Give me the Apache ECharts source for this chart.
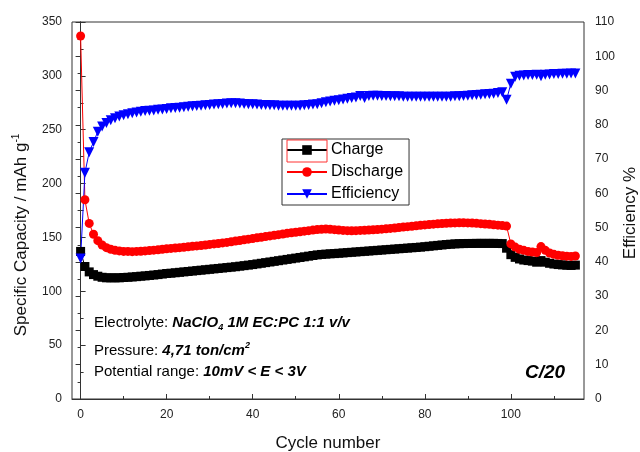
<!DOCTYPE html>
<html>
<head>
<meta charset="utf-8">
<script src="https://cdn.jsdelivr.net/npm/echarts@6/dist/echarts.min.js"></script>
<style>
  html, body { margin: 0; padding: 0; background: #fff; }
  #chart { width: 640px; height: 452px; }
</style>
</head>
<body>
<div id="chart"></div>
<script>
// specific capacity (mAh/g) per cycle, cycles 0..115
const charge = [
  137, 123, 118, 115.5, 114, 113, 112.5, 112.5, 112.5, 112.5,
  112.8, 113, 113.3, 113.6, 114, 114.3, 114.7, 115.1, 115.5, 116,
  116.5, 116.8, 117.2, 117.6, 118, 118.4, 118.8, 119.2, 119.6, 120,
  120.4, 120.8, 121.2, 121.6, 122, 122.4, 122.8, 123.3, 123.8, 124.3,
  124.8, 125.4, 126, 126.6, 127.2, 127.8, 128.4, 129, 129.6, 130.2,
  130.8, 131.4, 132, 132.6, 133.2, 133.8, 134.2, 134.5, 134.8, 135,
  135.3, 135.6, 135.9, 136.2, 136.5, 136.8, 137.1, 137.4, 137.7, 138,
  138.3, 138.6, 138.9, 139.2, 139.5, 139.8, 140.1, 140.4, 140.7, 141,
  141.4, 141.8, 142.2, 142.6, 143, 143.4, 143.7, 144, 144.2, 144.3,
  144.4, 144.4, 144.5, 144.5, 144.5, 144.5, 144.5, 144.4, 144.3, 140,
  134, 131.5, 130, 129, 128.5, 128, 127, 128.5, 127, 126,
  125.3, 124.8, 124.5, 124.2, 124, 124.3
];
const discharge = [
  337, 185, 163, 153, 147, 143, 140.5, 139, 138, 137.5,
  137, 137, 136.8, 137, 137.2, 137.5, 137.8, 138.2, 138.6, 139,
  139.5, 139.8, 140.2, 140.5, 140.9, 141.3, 141.7, 142.1, 142.5, 143,
  143.5, 144, 144.4, 144.9, 145.4, 146, 146.6, 147.2, 147.8, 148.4,
  149, 149.6, 150.2, 150.8, 151.4, 152, 152.6, 153.2, 153.8, 154.3,
  154.8, 155.3, 155.8, 156.3, 156.8, 157.3, 157.6, 157.8, 157.6, 157.2,
  156.8, 156.5, 156.3, 156.2, 156.3, 156.5, 156.7, 156.9, 157.1, 157.4,
  157.7, 158, 158.4, 158.8, 159.2, 159.6, 160, 160.4, 160.8, 161.2,
  161.6, 162, 162.3, 162.6, 162.9, 163.2, 163.4, 163.5, 163.6, 163.6,
  163.5, 163.3, 163.1, 162.8, 162.5, 162.2, 161.8, 161.4, 161, 160.5,
  144, 141, 139, 138, 137, 136.5, 136, 141.5, 138, 135.5,
  134.3, 133.5, 133, 132.6, 132.4, 132.8
];
// coulombic efficiency (%)
const efficiency = [
  41, 66, 72, 75, 78, 79.5, 80.5, 81.3, 81.9, 82.4,
  82.8, 83.1, 83.4, 83.6, 83.8, 84, 84.1, 84.2, 84.4, 84.5,
  84.6, 84.8, 84.9, 85, 85.1, 85.3, 85.4, 85.5, 85.6, 85.7,
  85.8, 85.9, 86, 86.1, 86.2, 86.3, 86.3, 86.2, 86.1, 86,
  86, 85.9, 85.8, 85.8, 85.7, 85.7, 85.6, 85.6, 85.6, 85.6,
  85.6, 85.6, 85.7, 85.8, 85.9, 86, 86.3, 86.6, 86.8, 87,
  87.2, 87.4, 87.6, 87.8, 88, 88.4, 87.8, 88.4, 88.5, 88.5,
  88.4, 88.4, 88.3, 88.3, 88.3, 88.2, 88.2, 88.2, 88.2, 88.2,
  88.2, 88.2, 88.2, 88.2, 88.2, 88.2, 88.2, 88.3, 88.3, 88.4,
  88.5, 88.6, 88.7, 88.8, 88.9, 89, 89.1, 89.3, 89.5, 87.3,
  92, 94, 94.3, 94.4, 94.5, 94.5, 94.6, 94.2, 94.6, 94.7,
  94.8, 94.8, 94.9, 94.9, 95, 95
];
const xMajorTicks = [0, 20, 40, 60, 80, 100];
const xMinorTicks = [10, 30, 50, 70, 90, 110];

const cycles = charge.map((v, i) => i);
const pairs = (arr) => arr.map((v, i) => [cycles[i], v]);

const FONT = "Liberation Sans, Arial, sans-serif";
const axisColor = "#333";
const labelColor = "#222";

const chart = echarts.init(document.getElementById("chart"));
chart.setOption({
  animation: false,
  backgroundColor: "#fff",
  grid: {
    left: 72, right: 56, top: 22, bottom: 53,
    show: true, borderColor: axisColor, borderWidth: 1,
    outerBoundsMode: "none"
  },
  xAxis: [
    {
      type: "value", min: -2, max: 117,
      axisLine: { onZero: false, lineStyle: { color: axisColor, width: 1 } },
      axisTick: { inside: true, length: 5, customValues: xMajorTicks, lineStyle: { color: axisColor } },
      axisLabel: { customValues: xMajorTicks, margin: 10, color: labelColor, fontSize: 12, fontFamily: FONT },
      splitLine: { show: false }
    },
    {
      // minor ticks only
      type: "value", min: -2, max: 117, position: "bottom",
      axisLine: { show: false, onZero: false },
      axisTick: { inside: true, length: 3, customValues: xMinorTicks, lineStyle: { color: axisColor } },
      axisLabel: { show: false },
      splitLine: { show: false }
    }
  ],
  yAxis: [
    {
      type: "value", min: 0, max: 350, interval: 50, position: "left",
      axisLine: { show: true, lineStyle: { color: axisColor, width: 1 } },
      axisTick: { show: true, inside: true, length: 5, lineStyle: { color: axisColor } },
      minorTick: { show: true, splitNumber: 2, length: 3, lineStyle: { color: axisColor } },
      axisLabel: { margin: 10, color: labelColor, fontSize: 12, fontFamily: FONT },
      splitLine: { show: false }
    },
    {
      type: "value", min: 0, max: 110, interval: 10, position: "right",
      axisLine: { show: true, lineStyle: { color: axisColor, width: 1 } },
      axisTick: { show: true, inside: true, length: 5, lineStyle: { color: axisColor } },
      minorTick: { show: true, splitNumber: 2, length: 3, lineStyle: { color: axisColor } },
      axisLabel: { margin: 11, color: labelColor, fontSize: 12, fontFamily: FONT },
      splitLine: { show: false }
    }
  ],
  legend: {
    left: 282, top: 139, orient: "vertical",
    data: ["Charge", "Discharge", "Efficiency"],
    backgroundColor: "#fff", borderColor: "#333", borderWidth: 1,
    padding: [2, 6, 2, 4], itemGap: 4, itemWidth: 40, itemHeight: 12,
    textStyle: { fontSize: 16, lineHeight: 18, color: "#000", fontFamily: FONT, padding: [0, 0, 0, -1] }
  },
  series: [
    {
      name: "Charge", type: "line", data: pairs(charge),
      symbol: "rect", symbolSize: 9, showAllSymbol: true,
      itemStyle: { color: "#000" }, lineStyle: { color: "#000", width: 1 }
    },
    {
      name: "Discharge", type: "line", data: pairs(discharge),
      symbol: "circle", symbolSize: 9, showAllSymbol: true,
      itemStyle: { color: "#ff0000" }, lineStyle: { color: "#ff0000", width: 1 }
    },
    {
      name: "Efficiency", type: "line", yAxisIndex: 1, data: pairs(efficiency),
      symbol: "triangle", symbolRotate: 180, symbolSize: 10, showAllSymbol: true,
      itemStyle: { color: "#0000ff" }, lineStyle: { color: "#0000ff", width: 1 }
    }
  ],
  graphic: [
    // red selection box around the Charge legend symbol
    {
      type: "rect", z: 100,
      shape: { x: 287, y: 140, width: 40, height: 22 },
      style: { fill: "none", stroke: "#ff3333", lineWidth: 1 }
    },
    {
      type: "text", left: 94, top: 315,
      style: {
        text: "{n|Electrolyte: }{b|NaClO}{s|4}{b| 1M EC:PC 1:1 v/v}",
        rich: {
          n: { fontSize: 15, fontFamily: FONT, fill: "#000", lineHeight: 19 },
          b: { fontSize: 15, fontFamily: FONT, fontWeight: "bold", fontStyle: "italic", fill: "#000", lineHeight: 19 },
          s: { fontSize: 9, fontFamily: FONT, fontWeight: "bold", fontStyle: "italic", fill: "#000", verticalAlign: "bottom", lineHeight: 12 }
        }
      }
    },
    {
      type: "text", left: 94, top: 341,
      style: {
        text: "{n|Pressure: }{b|4,71 ton/cm}{s|2}",
        rich: {
          n: { fontSize: 15, fontFamily: FONT, fill: "#000", lineHeight: 19 },
          b: { fontSize: 15, fontFamily: FONT, fontWeight: "bold", fontStyle: "italic", fill: "#000", lineHeight: 19 },
          s: { fontSize: 9, fontFamily: FONT, fontWeight: "bold", fontStyle: "italic", fill: "#000", verticalAlign: "top", lineHeight: 12 }
        }
      }
    },
    {
      type: "text", left: 94, top: 364,
      style: {
        text: "{n|Potential range: }{b|10mV < E < 3V}",
        rich: {
          n: { fontSize: 15, fontFamily: FONT, fill: "#000", lineHeight: 19 },
          b: { fontSize: 15, fontFamily: FONT, fontWeight: "bold", fontStyle: "italic", fill: "#000", lineHeight: 19 }
        }
      }
    },
    {
      type: "text", x: 545, y: 373,
      style: {
        text: "C/20", font: "italic bold 19px " + FONT, fill: "#000",
        align: "center", verticalAlign: "middle"
      }
    },
    {
      type: "text", x: 328, y: 443,
      style: {
        text: "Cycle number", font: "17px " + FONT, fill: "#111",
        align: "center", verticalAlign: "middle"
      }
    },
    {
      type: "text", x: 21, y: 235, rotation: Math.PI / 2,
      style: {
        text: "{n|Specific Capacity / mAh g}{s|-1}",
        align: "center", verticalAlign: "middle",
        rich: {
          n: { fontSize: 17, fontFamily: FONT, fill: "#111", lineHeight: 20 },
          s: { fontSize: 10, fontFamily: FONT, fill: "#111", verticalAlign: "top", lineHeight: 12 }
        }
      }
    },
    {
      type: "text", x: 630, y: 213, rotation: Math.PI / 2,
      style: {
        text: "Efficiency %", font: "17px " + FONT, fill: "#111",
        align: "center", verticalAlign: "middle"
      }
    }
  ]
});
</script>
</body>
</html>
